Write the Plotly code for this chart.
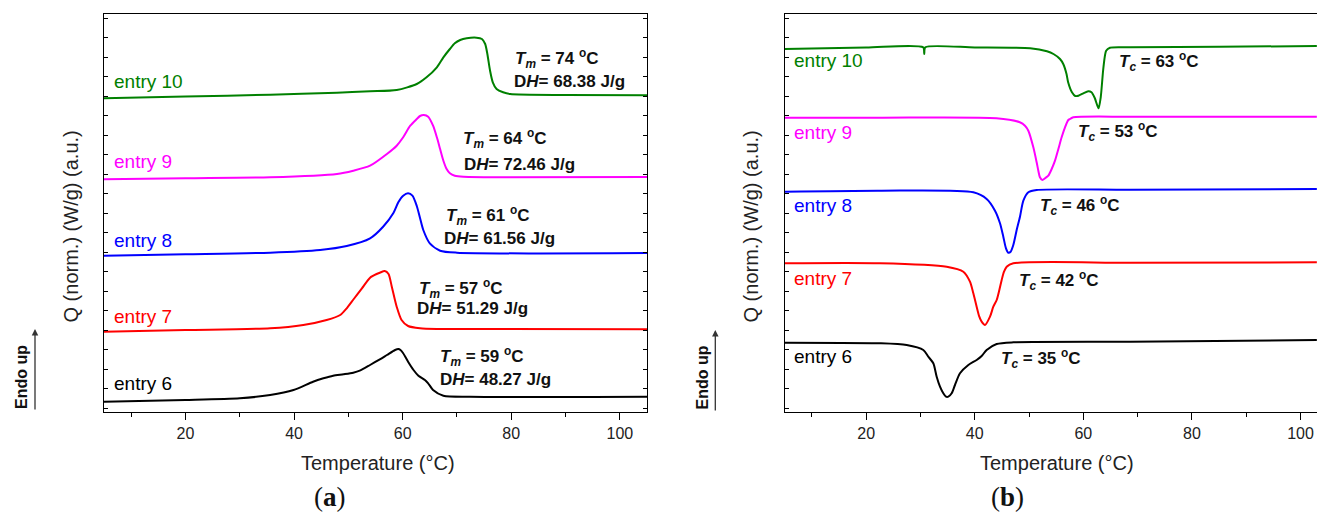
import plotly.graph_objects as go

# ---------------- panel (a): heating (melting) curves ----------------
# temperature (°C) and normalized heat flow (a.u., curves offset)
t_a6 = [5, 20, 30, 35.6, 39.9, 43.5, 45.4, 47.2, 49.1, 50.9, 52.1, 54, 55.8, 57.1, 58.6, 59.2, 59.6, 60.1, 61, 62, 62.9, 64.1, 64.7, 65.6, 67.5, 72.4, 105]
q_a6 = [1.03, 1.2, 1.37, 1.7, 2.2, 3.03, 3.37, 3.63, 3.77, 3.93, 4.13, 4.7, 5.27, 5.7, 6.2, 6.3, 6.2, 5.87, 5.03, 4.2, 3.63, 3.2, 2.87, 2.2, 1.63, 1.53, 1.53]

t_a7 = [5, 20, 35.6, 41.7, 46, 48.5, 49.7, 51, 52.5, 54, 55.2, 55.8, 56.7, 57.4, 58, 58.9, 59.8, 61, 63.2, 66.3, 105]
q_a7 = [8.03, 8.2, 8.37, 8.7, 9.2, 9.7, 10.37, 11.3, 12.37, 13.43, 13.8, 13.93, 14.1, 13.8, 12.53, 10.53, 9.2, 8.6, 8.37, 8.3, 8.27]

t_a8 = [5, 20, 35.6, 44.8, 49.7, 54, 56.4, 58.3, 59.2, 60.1, 61, 61.8, 62.6, 63.2, 63.8, 65, 66.9, 70, 105]
q_a8 = [15.63, 15.77, 15.93, 16.2, 16.6, 17.37, 18.53, 19.9, 20.97, 21.63, 21.87, 21.63, 20.6, 19.4, 18.2, 16.87, 16.13, 15.93, 15.9]

t_a9 = [5, 20, 35.6, 47.9, 50.9, 54, 57.1, 58.9, 60.1, 61.4, 62.6, 63.2, 63.9, 64.7, 65.6, 66.3, 66.9, 67.5, 68.1, 68.7, 69.6, 71.2, 79.8, 105]
q_a9 = [23.27, 23.37, 23.47, 23.8, 24.13, 24.63, 25.8, 26.63, 27.47, 28.63, 29.3, 29.6, 29.7, 29.53, 28.63, 27.47, 26.3, 25.13, 24.3, 23.87, 23.63, 23.53, 23.47, 23.5]

t_a10 = [5, 20, 35.6, 47.9, 54, 58.9, 62.6, 64.4, 66.3, 67.5, 68.7, 69.6, 70.6, 71.8, 73.6, 74.6, 75.2, 75.6, 76.1, 76.6, 77.3, 78.5, 79.8, 90, 105]
q_a10 = [31.37, 31.55, 31.73, 31.93, 32.07, 32.2, 32.8, 33.47, 34.47, 35.47, 36.3, 36.87, 37.2, 37.37, 37.43, 37.3, 36.8, 35.8, 34.13, 32.97, 32.3, 31.97, 31.8, 31.7, 31.67]

# ---------------- panel (b): cooling (crystallization) curves ----------------
t_b6 = [5, 22.55, 27.46, 30.53, 31.45, 32.37, 32.99, 33.6, 34.21, 34.7, 35.13, 35.75, 36.36, 37.28, 38.82, 40.35, 41.27, 42.19, 44.04, 47.1, 68.6, 103]
q_b6 = [6.93, 6.87, 6.7, 6.2, 5.53, 4.87, 3.53, 2.53, 1.87, 1.53, 1.53, 1.87, 2.7, 3.87, 4.7, 5.2, 5.6, 6.2, 6.8, 6.97, 7.03, 7.2]

t_b7 = [5, 22.55, 34.83, 37.9, 39.12, 39.74, 40.35, 40.84, 41.27, 41.89, 42.81, 43.42, 44.04, 44.53, 44.96, 45.39, 45.88, 47.1, 68.6, 103]
q_b7 = [14.87, 14.87, 14.53, 14.03, 13.03, 11.87, 10.53, 9.53, 9.03, 8.7, 9.53, 10.53, 11.2, 12.2, 13.2, 14.03, 14.53, 14.87, 14.93, 14.97]

t_b8 = [5, 22.6, 39.74, 42.19, 43.73, 44.65, 45.26, 45.75, 46.18, 46.61, 47.1, 47.72, 48.33, 48.95, 49.87, 51.4, 68.6, 103]
q_b8 = [22.03, 22.13, 21.97, 21.3, 20.13, 18.87, 17.53, 16.37, 15.93, 16.03, 16.7, 18.2, 19.53, 21.13, 21.97, 22.2, 22.23, 22.3]

t_b9 = [5, 22.6, 44, 48.3, 49.25, 49.87, 50.79, 51.4, 51.71, 52.0, 52.45, 52.94, 53.55, 54.17, 54.78, 55.4, 56.0, 56.62, 57.23, 57.54, 58.15, 68.6, 103]
q_b9 = [29.43, 29.43, 29.37, 28.97, 28.63, 28.13, 26.47, 24.97, 24.13, 23.47, 23.2, 23.37, 23.63, 24.3, 25.13, 26.3, 27.47, 28.47, 29.2, 29.3, 29.47, 29.53, 29.53]

t_b10 = [5, 20, 30.5, 30.7, 30.9, 40, 50.2, 53.3, 54.5, 55.7, 56.3, 56.9, 57.2, 57.9, 58.5, 59.1, 60, 60.9, 61.5, 62.1, 62.8, 63.2, 63.7, 64.2, 64.9, 68.6, 85, 103]
q_b10 = [36.3, 36.45, 36.47, 35.8, 36.47, 36.45, 36.37, 36.07, 35.8, 35.3, 34.8, 33.8, 32.97, 31.97, 31.6, 31.63, 31.87, 32.07, 31.97, 31.4, 30.37, 31.47, 34.47, 36.13, 36.43, 36.47, 36.52, 36.6]

entries = ["entry 6", "entry 7", "entry 8", "entry 9", "entry 10"]
colors = ["#000000", "#ff0000", "#0000ff", "#ff00ff", "#008000"]
tm_values = ["59", "57", "61", "64", "74"]
dh_values = ["48.27", "51.29", "61.56", "72.46", "68.38"]
tc_values = ["35", "42", "46", "53", "63"]

curves_a = [(t_a6, q_a6), (t_a7, q_a7), (t_a8, q_a8), (t_a9, q_a9), (t_a10, q_a10)]
curves_b = [(t_b6, q_b6), (t_b7, q_b7), (t_b8, q_b8), (t_b9, q_b9), (t_b10, q_b10)]

# label positions (layout)
label_q_a = [2.87, 9.53, 17.2, 25.03, 33.03]
label_q_b = [5.53, 13.37, 20.7, 27.93, 35.13]
tm_pos = [(66.56, 5.53), (62.66, 12.37), (67.58, 19.7), (70.75, 27.37), (80.32, 35.37)]
dh_pos = [(66.56, 3.27), (62.35, 10.37), (67.19, 17.37), (70.86, 24.8), (80.14, 33.03)]
tc_pos = [(44.52, 5.37), (47.73, 13.2), (51.7, 20.7), (58.65, 28.03), (66.25, 35.03)]

fig = go.Figure()
for (t, q), c in zip(curves_a, colors):
    fig.add_trace(go.Scatter(x=t, y=q, mode="lines", xaxis="x", yaxis="y",
                             line=dict(color=c, width=2, shape="spline", smoothing=0.7),
                             showlegend=False, hoverinfo="skip"))
for (t, q), c in zip(curves_b, colors):
    fig.add_trace(go.Scatter(x=t, y=q, mode="lines", xaxis="x2", yaxis="y2",
                             line=dict(color=c, width=2, shape="spline", smoothing=0.7),
                             showlegend=False, hoverinfo="skip"))

FONT = "Liberation Sans, Arial, sans-serif"
ann = []
for i in range(5):
    ann.append(dict(x=6.47, y=label_q_a[i], xref="x", yref="y", text=entries[i],
                    showarrow=False, xanchor="left", yanchor="middle",
                    font=dict(family=FONT, size=19, color=colors[i])))
    ann.append(dict(x=6.42, y=label_q_b[i], xref="x2", yref="y2", text=entries[i],
                    showarrow=False, xanchor="left", yanchor="middle",
                    font=dict(family=FONT, size=19, color=colors[i])))
    ann.append(dict(x=tm_pos[i][0], y=tm_pos[i][1], xref="x", yref="y",
                    text="<b><i>T</i><sub><i>m</i></sub> = %s <sup>o</sup>C</b>" % tm_values[i],
                    showarrow=False, xanchor="left", yanchor="middle",
                    font=dict(family=FONT, size=17, color="#111")))
    ann.append(dict(x=dh_pos[i][0], y=dh_pos[i][1], xref="x", yref="y",
                    text="<b>D<i>H</i>= %s J/g</b>" % dh_values[i],
                    showarrow=False, xanchor="left", yanchor="middle",
                    font=dict(family=FONT, size=17, color="#111")))
    ann.append(dict(x=tc_pos[i][0], y=tc_pos[i][1], xref="x2", yref="y2",
                    text="<b><i>T</i><sub><i>c</i></sub> = %s <sup>o</sup>C</b>" % tc_values[i],
                    showarrow=False, xanchor="left", yanchor="middle",
                    font=dict(family=FONT, size=17, color="#111")))

W, H = 1317, 516
def px(X):
    return X / W
def py(Y):
    return 1 - Y / H

# axis titles, panel letters, "Endo up"
for xc, letter in [(330, "a"), (1007.7, "b")]:
    ann.append(dict(x=px(xc), y=py(497), xref="paper", yref="paper",
                    text="(<b>%s</b>)" % letter, showarrow=False,
                    xanchor="center", yanchor="middle",
                    font=dict(family="Liberation Serif, Times New Roman, serif", size=27, color="#111")))
for xc in [377.6, 1057]:
    ann.append(dict(x=px(xc), y=py(463), xref="paper", yref="paper",
                    text="Temperature (°C)", showarrow=False, xanchor="center", yanchor="middle",
                    font=dict(family=FONT, size=20, color="#222")))
for xc in [70, 750]:
    ann.append(dict(x=px(xc), y=py(226.5), xref="paper", yref="paper",
                    text="Q (norm.) (W/g) (a.u.)", showarrow=False, textangle=-90,
                    xanchor="center", yanchor="middle",
                    font=dict(family=FONT, size=20, color="#222")))
for xt, xa, ytop in [(21.5, 35, 329), (702, 715.3, 330)]:
    ann.append(dict(x=px(xt), y=py(377.5), xref="paper", yref="paper",
                    text="<b>Endo up</b>", showarrow=False, textangle=-90,
                    xanchor="center", yanchor="middle",
                    font=dict(family=FONT, size=16, color="#111")))
    ann.append(dict(x=px(xa), y=py(ytop), xref="paper", yref="paper", text="",
                    showarrow=True, axref="pixel", ayref="pixel", ax=0, ay=82,
                    arrowhead=2, arrowsize=1, arrowwidth=1.3, arrowcolor="#333"))

ydom = [1 - 412 / H, 1 - 14 / H]
common_x = dict(showline=True, linecolor="black", linewidth=1.4, mirror=True,
                ticks="outside", ticklen=7, tickwidth=1.3, tickcolor="black",
                tick0=0, dtick=20, showgrid=False, zeroline=False,
                minor=dict(ticks="outside", tick0=0, dtick=10, ticklen=4, tickwidth=1.1, tickcolor="black"),
                tickfont=dict(family=FONT, size=16, color="#222"), automargin=False)
common_y = dict(showline=True, linecolor="black", linewidth=1.4, ticks="inside",
                ticklen=4, tickwidth=1, tickcolor="black", showticklabels=False,
                showgrid=False, zeroline=False, range=[0, 39.8], automargin=False)

fig.update_layout(
    width=W, height=H,
    margin=dict(l=0, r=0, t=0, b=0),
    paper_bgcolor="white", plot_bgcolor="white",
    showlegend=False,
    xaxis=dict(domain=[104 / W, 647 / W], range=[5, 105], anchor="y", **common_x),
    yaxis=dict(domain=ydom, anchor="x", mirror="ticks", tick0=0.37, dtick=1.95, **common_y),
    xaxis2=dict(domain=[784.7 / W, 1.0], range=[5, 103.03], anchor="y2", **common_x),
    yaxis2=dict(domain=ydom, anchor="x2", mirror=False, tick0=0.37, dtick=1.95, **common_y),
    annotations=ann,
)

fig.write_html("out.html")
